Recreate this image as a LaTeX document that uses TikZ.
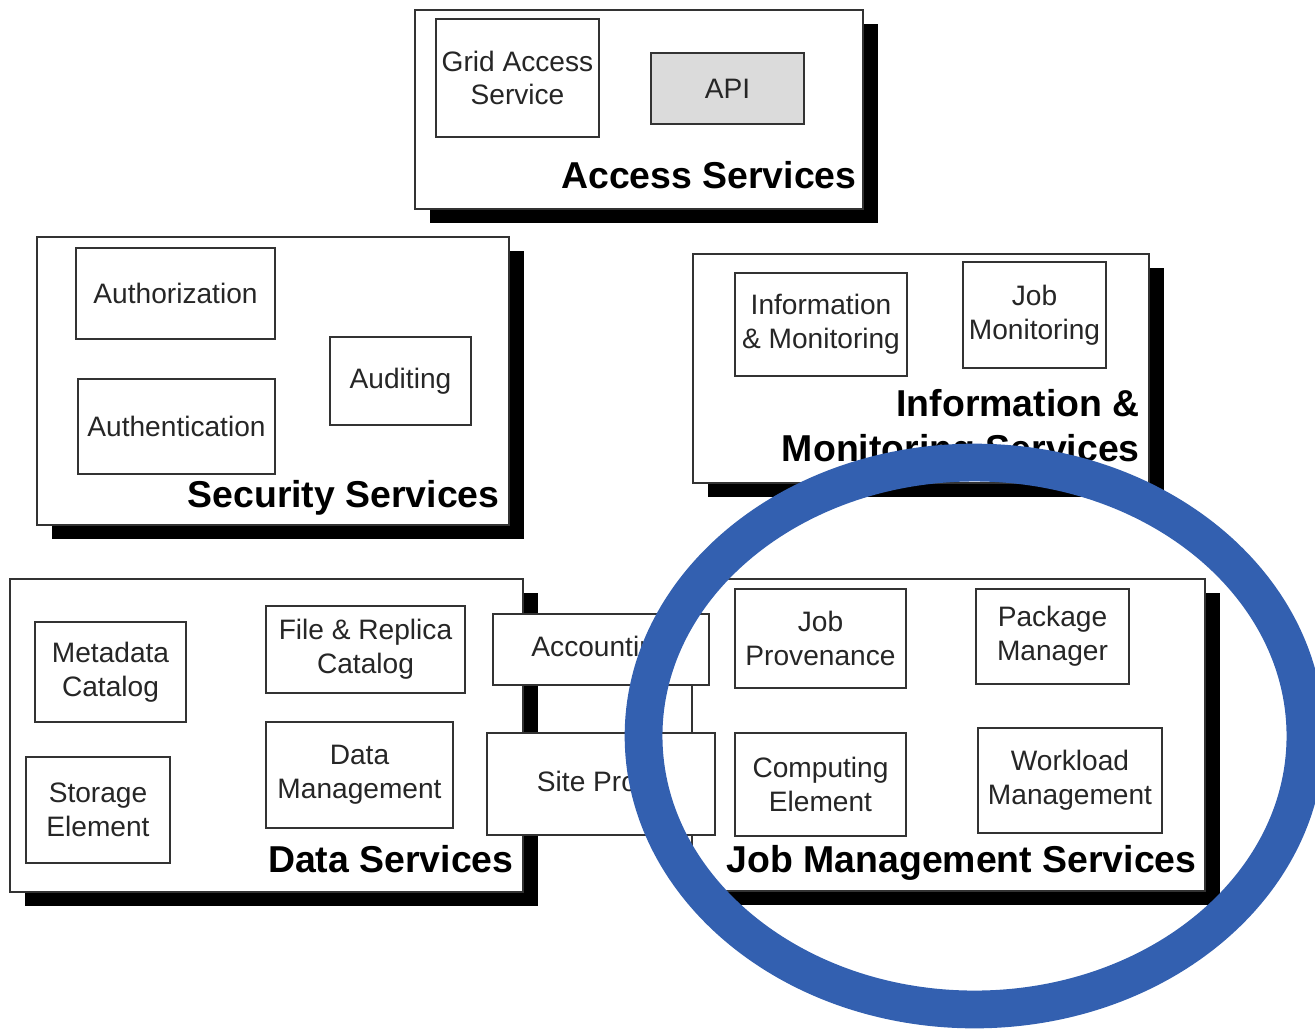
\documentclass[tikz,border=0pt]{standalone}
\usepackage{fontspec}
\setmainfont{Liberation Sans}
\usepackage{tikz}
\usetikzlibrary{
    positioning,
    shadows
}
\usepackage{xcolor}
\definecolor{ringblue}{RGB}{51,96,176}

\begin{document}
\begin{tikzpicture}[
        x=0.02cm, y=-0.02cm,
        layer/.style={
            draw=black!80,
            line width=1pt,
            fill=white,
            inner sep=0pt,
            drop shadow={shadow xshift=0.3cm, shadow yshift=-0.28cm, fill=black, opacity=1}
        },
        part/.style={
            draw=black!80,
            line width=1pt,
            fill=white,
            inner sep=0pt,
            align=center,
            text=black!85,
            font=\fontsize{16}{19.2}\selectfont
        },
        title/.style={
            inner sep=0pt,
            align=right,
            font=\fontsize{21.3}{25.5}\selectfont\bfseries
        }
    ]
        \useasboundingbox (0,0) rectangle (1315,1029);

        % access services
        \node[layer, minimum width=448*0.02cm, minimum height=199*0.02cm] (access) at (639,109.5) {};
        \node[part, minimum width=163*0.02cm, minimum height=118*0.02cm] (gas) at (517.5,78) {Grid Access\\Service};
        \node[part, fill=black!14, minimum width=153*0.02cm, minimum height=71*0.02cm] (api) at (727.5,88.5) {API};
        \node[title, anchor=base east] (accesstitle) at (857,188) {Access Services};

        % security services
        \node[layer, minimum width=472*0.02cm, minimum height=288*0.02cm] (security) at (273,381) {};
        \node[part, minimum width=199*0.02cm, minimum height=91*0.02cm] (authz) at (175.5,293.5) {Authorization};
        \node[part, minimum width=197*0.02cm, minimum height=95*0.02cm] (authn) at (176.5,426.5) {Authentication};
        \node[part, minimum width=141*0.02cm, minimum height=88*0.02cm] (audit) at (400.5,381) {Auditing};
        \node[title, anchor=base east] (securitytitle) at (500,507) {Security Services};

        % information & monitoring services
        \node[layer, minimum width=456*0.02cm, minimum height=229*0.02cm] (info) at (921,368.5) {};
        \node[part, minimum width=172*0.02cm, minimum height=103*0.02cm] (infomon) at (821,324.5) {Information\\\& Monitoring};
        \node[part, minimum width=143*0.02cm, minimum height=106*0.02cm] (jobmon) at (1034.5,315) {Job\\Monitoring};
        \node[title, anchor=north east] (infotitle) at (1140,389) {Information \&\\Monitoring Services};

        % data services
        \node[layer, minimum width=513*0.02cm, minimum height=313*0.02cm] (data) at (266.5,735.5) {};
        \node[part, minimum width=151*0.02cm, minimum height=100*0.02cm] (meta) at (110.5,672) {Metadata\\Catalog};
        \node[part, minimum width=144*0.02cm, minimum height=106*0.02cm] (storage) at (98,810) {Storage\\Element};
        \node[part, minimum width=199*0.02cm, minimum height=87*0.02cm] (replica) at (365.5,649.5) {File \& Replica\\Catalog};
        \node[part, minimum width=187*0.02cm, minimum height=106*0.02cm] (datamgmt) at (359.5,775) {Data\\Management};
        \node[title, anchor=base east] (datatitle) at (514,872) {Data Services};

        % job management services
        \node[layer, minimum width=513*0.02cm, minimum height=312*0.02cm] (job) at (948.5,735) {};
        \node[part, minimum width=171*0.02cm, minimum height=99*0.02cm] (prov) at (820.5,638.5) {Job\\Provenance};
        \node[part, minimum width=153*0.02cm, minimum height=95*0.02cm] (pkg) at (1052.5,636.5) {Package\\Manager};
        \node[part, minimum width=171*0.02cm, minimum height=103*0.02cm] (ce) at (820.5,784.5) {Computing\\Element};
        \node[part, minimum width=184*0.02cm, minimum height=105*0.02cm] (wms) at (1070,780.5) {Workload\\Management};
        \node[title, anchor=base east] (jobtitle) at (1197,872) {Job Management Services};

        % shared boxes
        \node[part, minimum width=216*0.02cm, minimum height=71*0.02cm] (acct) at (601,649.5) {Accounting};
        \node[part, minimum width=228*0.02cm, minimum height=102*0.02cm] (proxy) at (601,784) {Site Proxy};

        % highlight
        \draw[ringblue, line width=21.5pt] (974.5,736) ellipse [x radius=6.62cm, y radius=5.47cm];
    \end{tikzpicture}
\end{document}
